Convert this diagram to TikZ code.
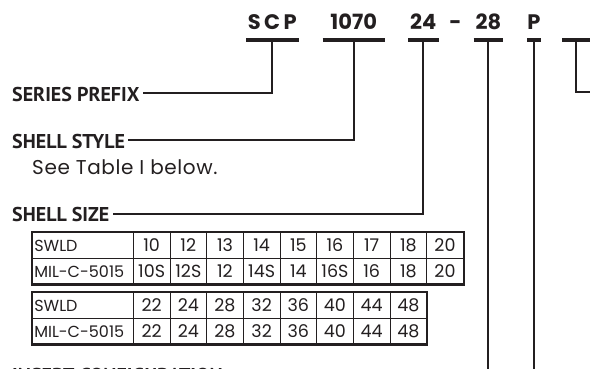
\documentclass[tikz,border=0pt]{standalone}
\usepackage{fontspec}
\setmainfont{Poppins}
\newfontfamily\capfont{PT Sans}
\newfontfamily\notefont[LetterSpace=3]{Poppins}
\usetikzlibrary{positioning}
\definecolor{ink}{HTML}{231F20}
\newcommand{\lefttext}[1]{\makebox[97pt][l]{#1}} % left set text in a row head
\tikzset{x=1pt, y=-1pt, % one unit is one pixel, y runs down the page
part/.style={font=\bfseries\fontsize{21}{21}\selectfont, text=ink, inner sep=0pt, text depth=0pt, anchor=base}, % one piece of the part number
bar/.style={line width=4.5pt, ink}, % thick rule under a piece
lead/.style={line width=2pt, ink}, % leader from a rule to its caption
caption/.style={font=\capfont\bfseries\fontsize{20}{20}\selectfont, text=ink, anchor=base west, inner xsep=3pt, inner ysep=0pt, text height=17pt, text depth=0pt},
cell/.style={draw=ink, line width=0.8pt, font=\fontsize{17.5}{17.5}\selectfont, text=ink, inner sep=0pt, minimum width=36.67pt, minimum height=25.65pt},
head/.style={cell, minimum width=101pt, font=\fontsize{16}{16}\selectfont},
frame/.style={line width=2.2pt, ink},
}

\begin{document}
\begin{tikzpicture}
  \useasboundingbox (0,0) rectangle (590,369);
  \clip (0,0) rectangle (590,369);

  % part number
  \node[part, minimum width=52pt] (scp) at (272.3,30) {S\,C\,P};
  \node[part, minimum width=62pt] (style) at (353.7,30) {1070};
  \node[part, minimum width=30pt] (size) at (423.3,30) {24};
  \node[part] (dash) at (455.5,30) {-};
  \node[part, minimum width=29pt] (insert) at (488.4,30) {28};
  \node[part, minimum width=12.5pt] (contact) at (533.9,30) {P};
  \node[part, minimum width=27pt] (mod) at (576,30) {};
  \foreach \n in {scp,style,size,insert,contact,mod}
    \draw[bar] ([yshift=-10pt]\n.base west) -- ([yshift=-10pt]\n.base east);

  % captions
  \node[caption] (prefix) at (9,101.5) {SERIES PREFIX};
  \node[caption] (shellstyle) at (9,148.5) {SHELL STYLE};
  \node[anchor=base west, inner sep=0pt, text=ink, font=\notefont\fontsize{20}{20}\selectfont] (note) at (32,174.3) {See Table I below.};
  \node[caption] (shellsize) at (9,222) {SHELL SIZE};
  \node[caption] (insertcap) at (9,382) {INSERT CONFIGURATION};

  % leaders
  \coordinate (insertend) at (488.4,380);
  \coordinate (contactend) at (533.9,380);
  \coordinate (modend) at (600,92);
  \draw[lead] ([yshift=-10pt]scp.base) |- (prefix.east);
  \draw[lead] ([yshift=-10pt]style.base) |- (shellstyle.east);
  \draw[lead] ([yshift=-10pt]size.base) |- (shellsize.east);
  \draw[lead] ([yshift=-10pt]insert.base) -- (insertend);
  \draw[lead] ([yshift=-10pt]contact.base) -- (contactend);
  \draw[lead] ([yshift=-10pt]mod.base) |- (modend);

  % shell size tables
  \node[head] (sw1) at (82.8,245.5) {\lefttext{SWLD}};
  \node[head] (mil1) at (82.8,271.2) {\lefttext{MIL-C-5015}};
  \foreach \s/\m [count=\i] in {10/10S,12/12S,13/12,14/14S,15/14,16/16S,17/16,18/18,20/20} {
    \node[cell] (swa\i) at ({133.3+36.67*(\i-0.5)},245.5) {\s};
    \node[cell] (mila\i) at ({133.3+36.67*(\i-0.5)},271.2) {\m};
  }
  \draw[frame] (sw1.north west) rectangle (mila9.south east);

  \node[head] (sw2) at (82.8,305.5) {\lefttext{SWLD}};
  \node[head] (mil2) at (82.8,331.2) {\lefttext{MIL-C-5015}};
  \foreach \s [count=\i] in {22,24,28,32,36,40,44,48} {
    \node[cell] (swb\i) at ({133.3+36.67*(\i-0.5)},305.5) {\s};
    \node[cell] (milb\i) at ({133.3+36.67*(\i-0.5)},331.2) {\s};
  }
  \draw[frame] (sw2.north west) rectangle (milb8.south east);
\end{tikzpicture}
\end{document}
